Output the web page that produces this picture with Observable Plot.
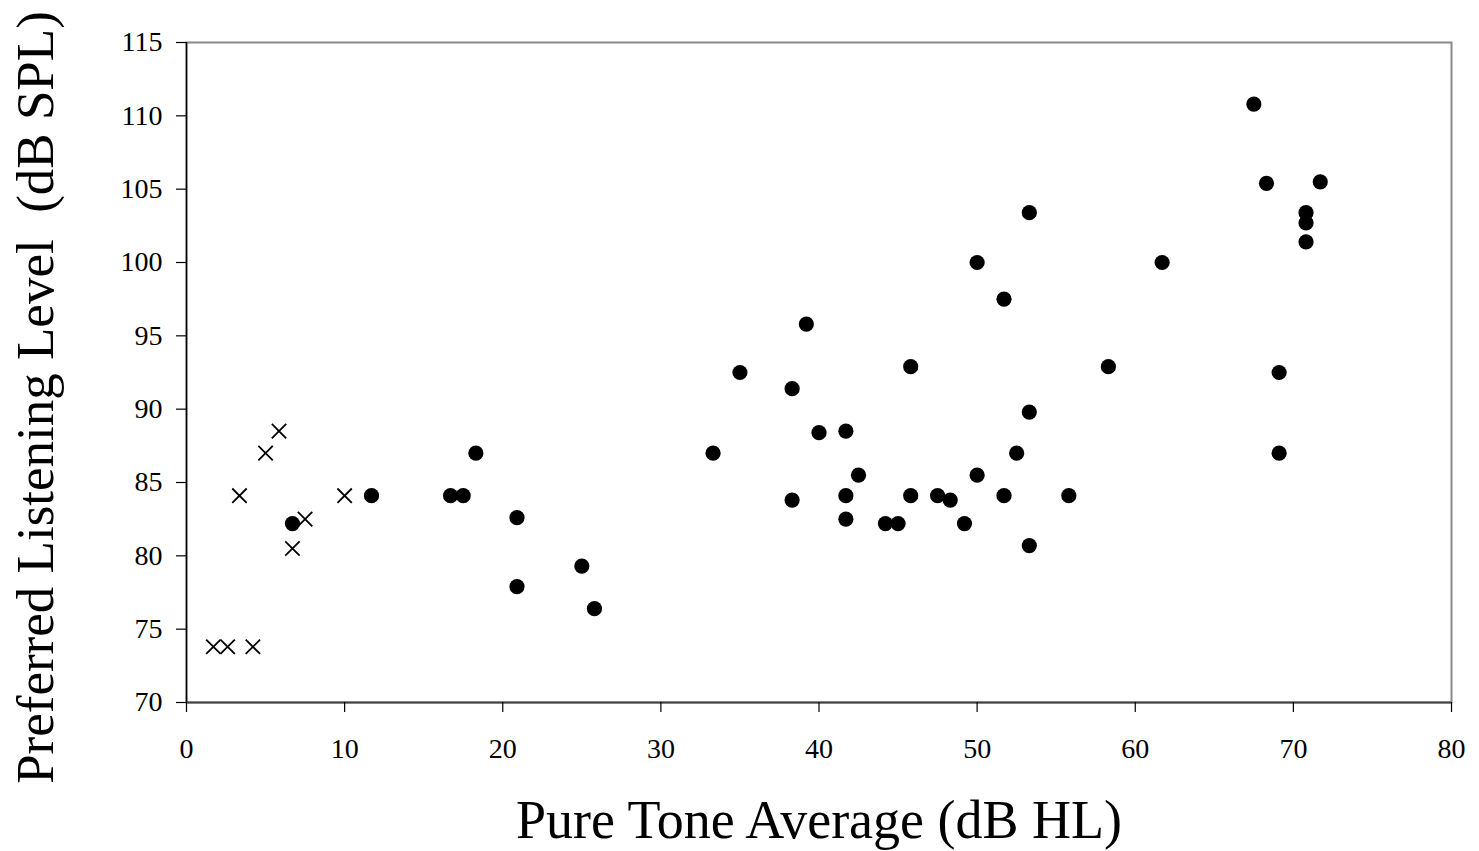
<!DOCTYPE html>
<html>
<head>
<meta charset="utf-8">
<script src="https://cdn.jsdelivr.net/npm/d3@7"></script>
<script src="https://cdn.jsdelivr.net/npm/@observablehq/plot@0.6"></script>
<style>
  html, body { margin: 0; padding: 0; background: white; }
</style>
</head>
<body>
<div id="chart"></div>
<script>
// Normal-hearing listeners (crosses)
const crossX = [1.7, 2.6, 4.2, 3.35, 5.0, 5.85, 7.5, 6.7, 10.0];
const crossY = [73.8, 73.8, 73.8, 84.1, 87.0, 88.5, 82.5, 80.5, 84.1];

// Hearing-impaired listeners (dots)
const dotX = [6.7, 11.7, 16.7, 17.5, 18.3, 20.9, 20.9, 25.0, 25.8, 33.3,
  35.0, 38.3, 38.3, 39.2, 40.0, 41.7, 41.7, 41.7, 42.5, 44.2,
  45.0, 45.8, 45.8, 47.5, 48.3, 49.2, 50.0, 50.0, 51.7, 51.7,
  52.5, 53.3, 53.3, 53.3, 55.8, 58.3, 61.7, 67.5, 68.3, 69.1,
  69.1, 70.8, 70.8, 70.8, 71.7];
const dotY = [82.2, 84.1, 84.1, 84.1, 87.0, 82.6, 77.9, 79.3, 76.4, 87.0,
  92.5, 91.4, 83.8, 95.8, 88.4, 88.5, 84.1, 82.5, 85.5, 82.2,
  82.2, 92.9, 84.1, 84.1, 83.8, 82.2, 100.0, 85.5, 97.5, 84.1,
  87.0, 103.4, 89.8, 80.7, 84.1, 92.9, 100.0, 110.8, 105.4, 92.5,
  87.0, 103.4, 102.7, 101.4, 105.5];

const xTicks = [0, 10, 20, 30, 40, 50, 60, 70, 80];
const yTicks = [70, 75, 80, 85, 90, 95, 100, 105, 110, 115];
const xTitle = "Pure Tone Average (dB HL)";
const yTitle = "Preferred Listening Level  (dB SPL)";

const crosses = crossX.map((x, i) => ({x, y: crossY[i]}));
const dots = dotX.map((x, i) => ({x, y: dotY[i]}));

const chart = Plot.plot({
  width: 1479,
  height: 851,
  marginLeft: 186,
  marginRight: 28,
  marginTop: 42,
  marginBottom: 149,
  style: {fontFamily: "'Liberation Serif', 'Times New Roman', serif", background: "white", color: "black"},
  x: {domain: [0, 80]},
  y: {domain: [70, 115]},
  marks: [
    Plot.frame({stroke: "#888", strokeWidth: 2}),
    Plot.ruleY([70], {stroke: "#444", strokeWidth: 2}),
    Plot.ruleX([0], {stroke: "black", strokeWidth: 1.5}),
    Plot.axisX({ticks: xTicks, tickSize: 10, tickPadding: 26, fontSize: 28, label: null, stroke: "black", strokeWidth: 1.2}),
    Plot.axisY({ticks: yTicks, tickSize: 10, tickPadding: 14, fontSize: 28, label: null, stroke: "black", strokeWidth: 1.2}),
    Plot.dot(crosses, {x: "x", y: "y", symbol: "times", r: 6.6, stroke: "black", strokeWidth: 1.8}),
    Plot.dot(dots, {x: "x", y: "y", r: 7.6, fill: "black", stroke: "none"}),
    Plot.text([xTitle], {frameAnchor: "bottom", lineAnchor: "middle", dy: 118, fontSize: 54, fill: "black"}),
    Plot.text([yTitle], {frameAnchor: "left", textAnchor: "middle", lineAnchor: "middle", rotate: -90, dx: -150, dy: 25, fontSize: 53, fill: "black"})
  ]
});
document.getElementById("chart").appendChild(chart);
</script>
</body>
</html>
